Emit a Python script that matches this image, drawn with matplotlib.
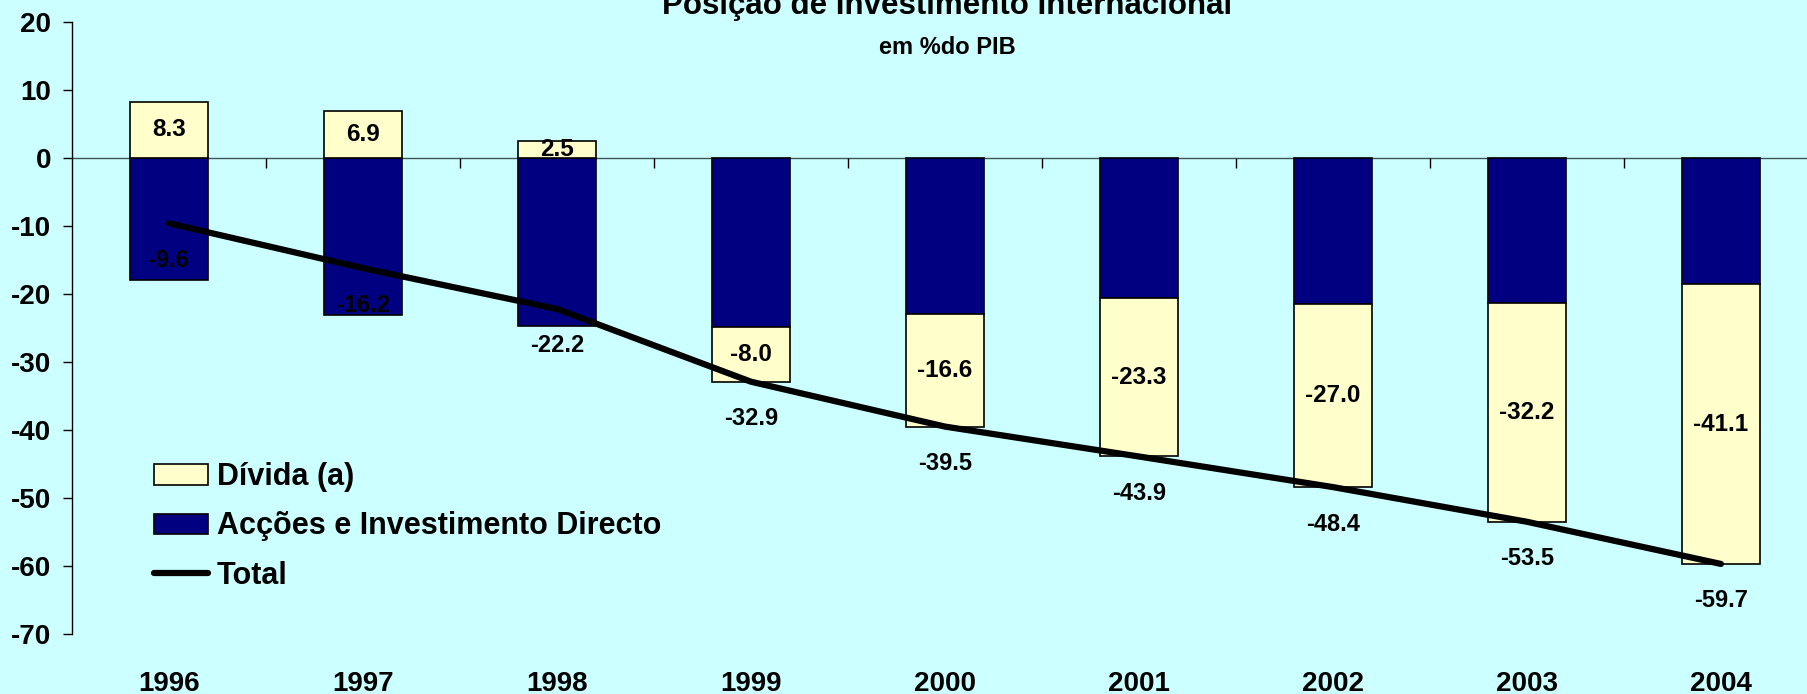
# -*- coding: utf-8 -*-
"""
use: posição de investimento internacional, em % do PIB
"""

import numpy as np
import matplotlib
matplotlib.use("Agg")
import matplotlib.pyplot as plt
from matplotlib.patches import Patch
from matplotlib.lines import Line2D

# data ========================================================================

anos = ["1996", "1997", "1998", "1999", "2000", "2001", "2002", "2003", "2004"]
divida = [8.3, 6.9, 2.5, -8.0, -16.6, -23.3, -27.0, -32.2, -41.1]
accoes = [-17.9, -23.1, -24.7, -24.9, -22.9, -20.6, -21.4, -21.3, -18.6]
total = [-9.6, -16.2, -22.2, -32.9, -39.5, -43.9, -48.4, -53.5, -59.7]

# style =======================================================================

plt.rcParams["font.family"] = ["Liberation Sans", "DejaVu Sans"]
plt.rcParams["font.weight"] = "bold"
plt.rcParams["axes.unicode_minus"] = False

bg = "#CCFFFF"
amarelo = "#FFFFCC"
azul = "#000080"

fig = plt.figure(figsize=(18.08, 6.94), dpi=100, facecolor=bg)
ax = fig.add_axes([0.0398, 0.0865, 0.9657, 0.8818])
ax.set_facecolor(bg)

x = np.arange(len(anos))
w = 0.40

# bars: acções from zero, dívida on top (positive) or below acções (negative)
base_div = [0 if d > 0 else a for d, a in zip(divida, accoes)]
ax.bar(x, accoes, w, color=azul, edgecolor="black", linewidth=1.2, zorder=2)
ax.bar(x, divida, w, bottom=base_div, color=amarelo, edgecolor="black",
       linewidth=1.2, zorder=2)

ax.plot(x, total, color="black", linewidth=4.5, solid_capstyle="round", zorder=3)

# labels
for xi, d, b in zip(x, divida, base_div):
    ax.text(xi, b + d / 2, f"{d:.1f}", ha="center", va="center",
            fontsize=17.5, fontweight="bold", zorder=4)
for xi, t in zip(x, total):
    ax.annotate(f"{t:.1f}", (xi, t), xytext=(0, -37), textcoords="offset pixels",
                ha="center", va="center", fontsize=17, fontweight="bold", zorder=4)

for xi, a in zip(x, anos):
    ax.text(xi, -0.094, a, transform=ax.get_xaxis_transform(), ha="center",
            va="baseline", fontsize=20, fontweight="bold")

# axes ========================================================================

ax.set_xlim(-0.5, len(anos) - 0.5)
ax.set_ylim(-70, 20)
ax.set_yticks(np.arange(-70, 21, 10))

for s in ["top", "right"]:
    ax.spines[s].set_visible(False)
ax.spines["bottom"].set_position(("data", 0))
ax.spines["bottom"].set_color("#3f5555")
ax.spines["bottom"].set_linewidth(1.0)
ax.spines["bottom"].set_zorder(1)
ax.spines["left"].set_color("black")
ax.spines["left"].set_linewidth(1.0)

ax.set_xticks(x)
ax.set_xticks(x[:-1] + 0.5, minor=True)
ax.tick_params(axis="x", which="major", length=0, labelbottom=False)
ax.tick_params(axis="x", which="minor", length=7, width=1, direction="out",
               color="black")
ax.tick_params(axis="y", length=6.5, width=1, direction="out", pad=8.5,
               labelsize=20)
for lab in ax.get_yticklabels():
    lab.set_fontweight("bold")

# legend
handles = [
    Patch(facecolor=amarelo, edgecolor="black", linewidth=1.2),
    Patch(facecolor=azul, edgecolor="black", linewidth=1.2),
    Line2D([0], [0], color="black", linewidth=4.5, solid_capstyle="round"),
]
fig.legend(handles, ["Dívida (a)", "Acções e Investimento Directo", "Total"],
           loc="upper left", bbox_to_anchor=(0.0852, 0.334),
           bbox_transform=fig.transFigure, frameon=False,
           prop={"size": 22, "weight": "bold"}, handlelength=1.76,
           handleheight=0.65, handletextpad=0.3, labelspacing=0.63,
           borderpad=0, borderaxespad=0)

# titles
fig.text(0.524, 0.980, "Posição de Investimento Internacional", ha="center",
         va="baseline", fontsize=22.5, fontweight="bold")
fig.text(0.524, 0.922, "em %do PIB", ha="center", va="baseline",
         fontsize=17, fontweight="bold")

fig.savefig("out.png", dpi=100, facecolor=bg)
